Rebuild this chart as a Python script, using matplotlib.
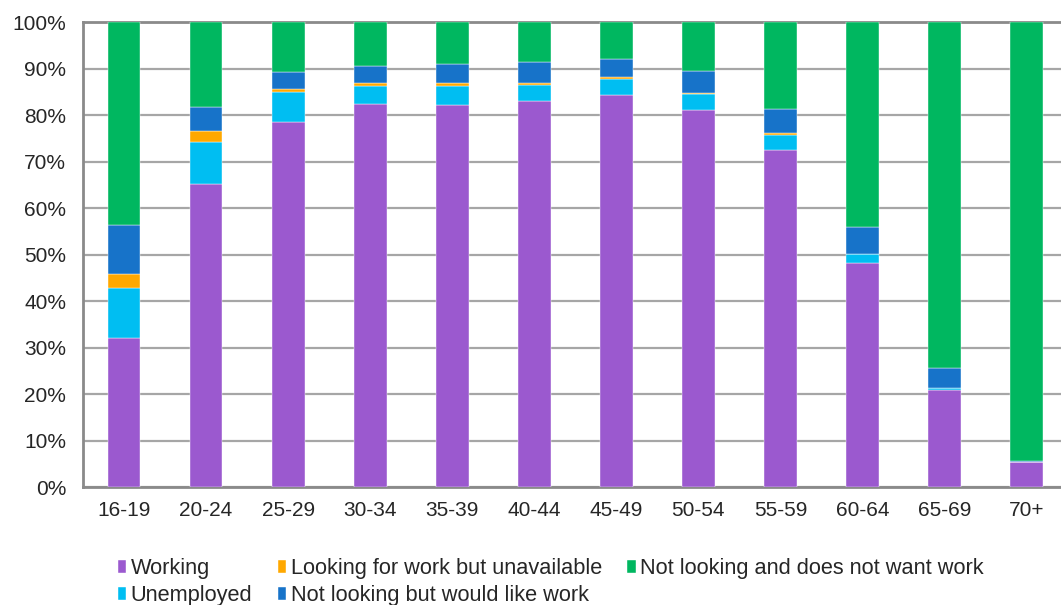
import matplotlib
matplotlib.use("Agg")
import matplotlib.pyplot as plt
import numpy as np

plt.rcParams['font.family'] = ['Liberation Sans', 'DejaVu Sans']

age_groups = ['16-19', '20-24', '25-29', '30-34', '35-39', '40-44',
              '45-49', '50-54', '55-59', '60-64', '65-69', '70+']

# shares in %
working = [32.0, 65.1, 78.6, 82.4, 82.1, 83.0, 84.2, 81.0, 72.5, 48.2, 20.8, 5.3]
unemployed = [10.8, 9.2, 6.4, 3.8, 4.1, 3.5, 3.5, 3.6, 3.3, 1.9, 0.4, 0.1]
unavailable = [3.0, 2.2, 0.7, 0.6, 0.7, 0.4, 0.4, 0.2, 0.4, 0.1, 0.0, 0.0]
would_like = [10.5, 5.3, 3.5, 3.8, 4.0, 4.6, 3.9, 4.6, 5.2, 5.7, 4.5, 0.2]
not_want = [43.7, 18.2, 10.8, 9.4, 9.2, 8.5, 8.0, 10.6, 18.6, 44.1, 74.3, 94.4]

series = [
    ('Working', working, '#9B59CF'),
    ('Unemployed', unemployed, '#00BEF2'),
    ('Looking for work but unavailable', unavailable, '#FFA800'),
    ('Not looking but would like work', would_like, '#1773C9'),
    ('Not looking and does not want work', not_want, '#00B760'),
]

fig = plt.figure(figsize=(10.61, 6.05), dpi=100)
ax = fig.add_axes([0.0782, 0.195, 0.928, 0.7686])

x = np.arange(len(age_groups))
bottom = np.zeros(len(age_groups))
handles = []
for name, vals, col in series:
    vals = np.array(vals)
    b = ax.bar(x, vals, 0.4, bottom=bottom, color=col, label=name,
               edgecolor='white', linewidth=0.3, zorder=3)
    handles.append(b)
    bottom += vals

ax.set_xlim(-0.5, 11.5)
ax.set_ylim(0, 100)
ax.set_yticks(np.arange(0, 101, 10))
ax.set_yticklabels([f'{v}%' for v in range(0, 101, 10)])
ax.set_xticks(x)
ax.set_xticklabels(age_groups)
ax.tick_params(axis='both', length=0, labelsize=15, colors='#262626')
ax.tick_params(axis='y', pad=12)
ax.tick_params(axis='x', pad=10)

ax.yaxis.grid(True, color='#A6A6A6', linewidth=1.6, zorder=0)
ax.set_axisbelow(True)
for s in ['left', 'bottom', 'top']:
    ax.spines[s].set_color('#8A8A8A')
    ax.spines[s].set_linewidth(2)
ax.spines['right'].set_visible(False)

fig.legend(handles=handles, loc='upper left', bbox_to_anchor=(0.111, 0.078),
           ncol=3, frameon=False, fontsize=15.7, borderpad=0, borderaxespad=0,
           handlelength=0.4, handleheight=0.55, handletextpad=0.2,
           columnspacing=1.15, labelspacing=0.3, labelcolor='#262626')

fig.savefig('out.png', dpi=100)
